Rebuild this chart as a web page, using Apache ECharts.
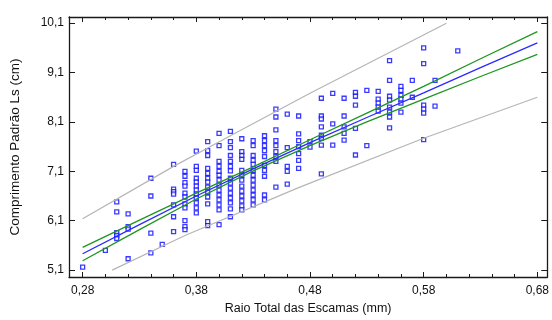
<!DOCTYPE html>
<html>
<head>
<meta charset="utf-8">
<script src="https://cdn.jsdelivr.net/npm/echarts@6/dist/echarts.min.js"></script>
<style>
html,body{margin:0;padding:0;background:#fff;}
#chart{width:552px;height:320px;}
</style>
</head>
<body>
<div id="chart"></div>
<script>
// Scatter data: x columns and the y values observed in each column
const colX = [0.28, 0.30, 0.31, 0.32, 0.34, 0.35, 0.36, 0.37, 0.38, 0.39, 0.40, 0.41, 0.42, 0.43, 0.44, 0.45, 0.46, 0.47, 0.48, 0.49, 0.50, 0.51, 0.52, 0.53, 0.54, 0.55, 0.56, 0.57, 0.58, 0.59, 0.61];
const colY = [
  [5.16],
  [5.50],
  [6.48, 6.28, 5.86, 5.80, 5.74],
  [6.24, 5.98, 5.93, 5.33],
  [6.96, 6.60, 5.85, 5.45],
  [5.62],
  [7.24, 6.74, 6.69, 6.64, 6.42, 6.18, 5.88],
  [7.10, 7.00, 6.87, 6.80, 6.66, 6.58, 6.44, 6.36, 6.10, 5.98, 5.92],
  [7.51, 7.20, 7.12, 6.96, 6.88, 6.80, 6.72, 6.64, 6.56, 6.46, 6.36, 6.26],
  [7.70, 7.52, 7.42, 7.16, 7.06, 6.96, 6.88, 6.78, 6.68, 6.58, 6.44, 6.08, 6.00],
  [7.87, 7.62, 7.30, 7.20, 7.10, 7.02, 6.92, 6.82, 6.72, 6.62, 6.52, 6.42, 6.32, 6.02],
  [7.91, 7.70, 7.58, 7.42, 7.30, 7.20, 7.11, 6.96, 6.86, 6.76, 6.66, 6.56, 6.46, 6.34, 6.18],
  [7.76, 7.50, 7.42, 7.34, 7.12, 7.02, 6.92, 6.80, 6.70, 6.60, 6.50, 6.40, 6.32],
  [7.72, 7.62, 7.42, 7.32, 7.24, 7.12, 7.02, 6.92, 6.82, 6.72, 6.62, 6.52, 6.42],
  [7.82, 7.72, 7.62, 7.52, 7.40, 7.22, 7.12, 7.00, 6.62, 6.52],
  [8.36, 8.20, 7.94, 7.72, 7.62, 7.50, 7.40, 7.30, 6.78],
  [8.26, 7.58, 7.20, 7.10, 6.84],
  [8.22, 7.86, 7.72, 7.60, 7.46, 7.32, 7.16],
  [7.70, 7.59],
  [8.58, 8.22, 8.16, 8.00, 7.83, 7.77, 7.63, 7.05],
  [8.68, 8.06, 7.63],
  [8.58, 8.22, 8.00, 7.87, 7.73],
  [8.70, 8.62, 8.44, 7.97, 7.43],
  [8.74, 7.62],
  [8.72, 8.56, 8.48, 8.40, 8.32],
  [9.34, 8.94, 8.62, 8.54, 8.40, 8.30, 8.20, 7.98],
  [8.82, 8.74, 8.64, 8.56, 8.48, 8.30],
  [8.94, 8.60],
  [9.60, 9.28, 8.44, 8.36, 8.28, 7.74],
  [8.94, 8.42],
  [9.54]
];

// Regression line and 95% confidence limits
const lineX     = [0.28, 0.33, 0.38, 0.43, 0.48, 0.53, 0.58, 0.63, 0.68];
const fitY      = [5.43, 6.02, 6.60, 7.15, 7.68, 8.19, 8.69, 9.20, 9.70];
const confUpper = [5.56, 6.11, 6.66, 7.19, 7.74, 8.28, 8.82, 9.38, 9.93];
const confLower = [5.29, 5.92, 6.54, 7.11, 7.62, 8.10, 8.56, 9.02, 9.47];

// Prediction limits
const predUpperX = [0.28, 0.36, 0.41, 0.48, 0.60];
const predUpperY = [6.14, 7.20, 7.82, 8.68, 10.10];
const predLowerX = [0.306, 0.37, 0.47, 0.58, 0.68];
const predLowerY = [5.10, 5.80, 6.77, 7.77, 8.60];

// Axis ticks
const xMajor = [0.28, 0.38, 0.48, 0.58, 0.68];
const xMinor = [0.30, 0.32, 0.34, 0.36, 0.40, 0.42, 0.44, 0.46, 0.50, 0.52, 0.54, 0.56, 0.60, 0.62, 0.64, 0.66];
const yMajor = [5.1, 6.1, 7.1, 8.1, 9.1, 10.1];

const xTitle = 'Raio Total das Escamas (mm)';
const yTitle = 'Comprimento Padrão Ls (cm)';

const points = [];
colX.forEach((x, i) => colY[i].forEach(y => points.push([x, y])));
const zip = (a, b) => a.map((v, i) => [v, b[i]]);

const XMIN = 0.268, XMAX = 0.6887, YMIN = 4.96, YMAX = 10.225;
const axisColor = '#1a1a1a';
const font = "'Liberation Sans', Arial, sans-serif";
const textColor = '#111';

function xAx(pos, ticks, len, labels, line) {
  return {
    type: 'value', position: pos, min: XMIN, max: XMAX,
    axisLine: { show: line, onZero: false, lineStyle: { color: axisColor, width: 1.3 } },
    axisTick: { show: true, inside: true, length: len, customValues: ticks, lineStyle: { color: axisColor, width: 1 } },
    axisLabel: labels ? { show: true, customValues: xMajor, formatter: v => v.toFixed(2).replace('.', ','), color: textColor, fontSize: 12, fontFamily: font, margin: 8 } : { show: false },
    splitLine: { show: false },
    name: labels ? xTitle : '', nameLocation: 'middle', nameGap: 25,
    nameTextStyle: { color: textColor, fontSize: 12.5, fontFamily: font }
  };
}
function yAx(pos, labels) {
  return {
    type: 'value', position: pos, min: YMIN, max: YMAX,
    axisLine: { show: true, onZero: false, lineStyle: { color: axisColor, width: 1.3 } },
    axisTick: { show: true, inside: true, length: 6, customValues: yMajor, lineStyle: { color: axisColor, width: 1 } },
    axisLabel: labels ? { show: true, customValues: yMajor, formatter: v => v.toFixed(1).replace('.', ','), color: textColor, fontSize: 12, fontFamily: font, margin: 5 } : { show: false },
    splitLine: { show: false },
    name: labels ? yTitle : '', nameLocation: 'middle', nameGap: 47,
    nameTextStyle: { color: textColor, fontSize: 13.5, fontFamily: font }
  };
}

const chart = echarts.init(document.getElementById('chart'), null, { renderer: 'canvas' });
chart.setOption({
  animation: false,
  backgroundColor: '#fff',
  grid: { left: 68, right: 2, top: 17, bottom: 39, containLabel: false },
  xAxis: [
    xAx('bottom', xMajor, 5, true, true),
    xAx('bottom', xMinor, 3, false, false),
    xAx('top', xMajor, 5, false, true),
    xAx('top', xMinor, 3, false, false)
  ],
  yAxis: [yAx('left', true), yAx('right', false)],
  series: [
    {
      type: 'scatter', data: points, symbol: 'rect', symbolSize: 4,
      itemStyle: { color: '#ffffff', borderColor: '#0a0aff', borderWidth: 1.3 }, z: 2
    },
    { type: 'line', data: zip(predUpperX, predUpperY), showSymbol: false, lineStyle: { color: '#b5b5b5', width: 1.2 }, z: 3 },
    { type: 'line', data: zip(predLowerX, predLowerY), showSymbol: false, lineStyle: { color: '#b5b5b5', width: 1.2 }, z: 3 },
    { type: 'line', data: zip(lineX, confUpper), showSymbol: false, lineStyle: { color: '#1e961e', width: 1.3 }, z: 4 },
    { type: 'line', data: zip(lineX, confLower), showSymbol: false, lineStyle: { color: '#1e961e', width: 1.3 }, z: 4 },
    { type: 'line', data: zip(lineX, fitY), showSymbol: false, lineStyle: { color: '#2a2aff', width: 1.3 }, z: 5 }
  ]
});
</script>
</body>
</html>
